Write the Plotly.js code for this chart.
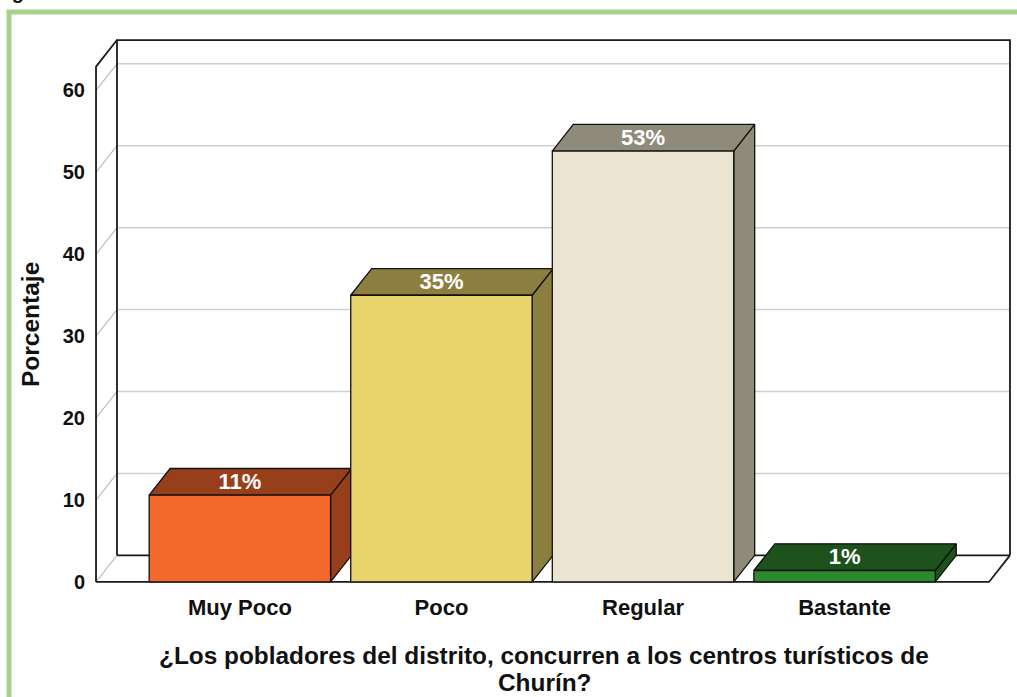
<!DOCTYPE html>
<html>
<head>
<meta charset="utf-8">
<script src="https://cdn.plot.ly/plotly-3.0.1.min.js"></script>
<style>html,body{margin:0;padding:0;background:#fff;}#chart{width:1017px;height:697px;}</style>
</head>
<body>
<div id="chart"></div>
<script>
// ---- data ----
var categories = ["Muy Poco", "Poco", "Regular", "Bastante"];
var percentages = [10.6, 35.0, 52.6, 1.4];
var yTickValues = [0, 10, 20, 30, 40, 50, 60];
var frontColors = ["#f2692b", "#e9d36b", "#ebe4d0", "#2b8a2b"];
var sideColors = ["#973f1a", "#8c7e3f", "#8f8b7b", "#1d521d"];
var xTitleLines = ["¿Los pobladores del distrito, concurren a los centros turísticos de", "Churín?"];
var yTitle = "Porcentaje";
var figLabel = "Figura 6";

// ---- geometry of pseudo 3D box (axis units) ----
var X0 = -0.7136, X1 = 3.7165, DX = 0.104;
var YT = 62.9, DY = 3.25;
var BW = 0.45;
var FONT = "Liberation Sans, Arial, sans-serif";

var traces = [];
function poly(xs, ys, fill, lineColor, lw) {
  traces.push({
    type: "scatter", mode: "lines", x: xs.concat([xs[0]]), y: ys.concat([ys[0]]),
    fill: fill ? "toself" : "none", fillcolor: fill || "rgba(0,0,0,0)",
    line: {color: lineColor, width: lw}, hoverinfo: "skip", showlegend: false
  });
}
function seg(xs, ys, color, lw) {
  traces.push({
    type: "scatter", mode: "lines", x: xs, y: ys,
    line: {color: color, width: lw}, hoverinfo: "skip", showlegend: false
  });
}

// back wall
poly([X0 + DX, X1 + DX, X1 + DX, X0 + DX], [DY, DY, YT + DY, YT + DY], "#ffffff", "rgba(0,0,0,0)", 0);
// left wall fill
poly([X0, X0, X0 + DX, X0 + DX], [0, YT, YT + DY, DY], "#ffffff", "rgba(0,0,0,0)", 0);
// gridlines
yTickValues.forEach(function (v) {
  if (v > 0) {
    seg([X0 + DX, X1 + DX], [v + DY, v + DY], "#cfcfcf", 1.5);
  }
  seg([X0, X0 + DX], [v, v + DY], "#bdbdbd", 1.2);
});
// back wall edges
seg([X0 + DX, X0 + DX, X1 + DX, X1 + DX], [DY, YT + DY, YT + DY, DY], "#1a1a1a", 1.8);
// left wall edges
seg([X0, X0, X0 + DX], [0, YT, YT + DY], "#1a1a1a", 1.8);
// floor
seg([X0 + DX, X1 + DX], [DY, DY], "#1a1a1a", 1.6);
seg([X0, X1, X1 + DX], [0, 0, DY], "#1a1a1a", 1.8);

// bars
percentages.forEach(function (v, i) {
  var xl = i - BW, xr = i + BW;
  poly([xr, xr + DX, xr + DX, xr], [0, DY, v + DY, v], sideColors[i], "#111111", 1.3);
  poly([xl, xr, xr + DX, xl + DX], [v, v, v + DY, v + DY], sideColors[i], "#111111", 1.3);
  poly([xl, xr, xr, xl], [0, 0, v, v], frontColors[i], "#111111", 1.3);
});

// value labels
traces.push({
  type: "scatter", mode: "text",
  x: categories.map(function (c, i) { return i; }),
  y: percentages.map(function (v) { return v + DY * 0.45; }),
  text: percentages.map(function (v) { return Math.round(v) + "%"; }),
  textposition: "middle center",
  textfont: {family: FONT, size: 22, color: "#ffffff", weight: "bold"},
  hoverinfo: "skip", showlegend: false, cliponaxis: false
});

var layout = {
  width: 1017, height: 697,
  margin: {l: 93, r: 4, t: 37, b: 112},
  paper_bgcolor: "#ffffff", plot_bgcolor: "#ffffff",
  showlegend: false,
  font: {family: FONT, color: "#111111"},
  xaxis: {
    range: [X0 - 0.015, X1 + DX + 0.015],
    tickvals: categories.map(function (c, i) { return i; }),
    ticktext: categories,
    showgrid: false, zeroline: false, showline: false, ticks: "",
    ticklabelstandoff: 7,
    tickfont: {family: FONT, size: 22, color: "#111111", weight: "bold"},
    fixedrange: true
  },
  yaxis: {
    range: [-0.37, YT + DY + 0.37],
    tickvals: yTickValues,
    showgrid: false, zeroline: false, showline: false, ticks: "",
    ticklabelstandoff: 7,
    tickfont: {family: FONT, size: 20, color: "#111111", weight: "bold"},
    fixedrange: true
  },
  annotations: [
    {text: xTitleLines[0], xref: "paper", yref: "paper", x: (544 - 93) / 920, y: (585 - 655) / 548,
     xanchor: "center", yanchor: "middle", showarrow: false,
     font: {family: FONT, size: 24.4, color: "#111111", weight: "bold"}},
    {text: xTitleLines[1], xref: "paper", yref: "paper", x: (544 - 93) / 920, y: (585 - 682) / 548,
     xanchor: "center", yanchor: "middle", showarrow: false,
     font: {family: FONT, size: 24.4, color: "#111111", weight: "bold"}},
    {text: yTitle, xref: "paper", yref: "paper", x: (30 - 93) / 920, y: (585 - 325) / 548,
     xanchor: "center", yanchor: "middle", showarrow: false, textangle: -90,
     font: {family: FONT, size: 24.5, color: "#111111", weight: "bold"}},
    {text: figLabel, xref: "paper", yref: "paper", x: (-8 - 93) / 920, y: (585 - 5.5) / 548,
     xanchor: "left", yanchor: "bottom", showarrow: false,
     font: {family: FONT, size: 20, color: "#111111", weight: "bold"}}
  ],
  shapes: [
    {type: "path", xref: "paper", yref: "paper", layer: "below",
     path: "M " + ((9 - 93) / 920) + "," + ((585 - 720) / 548) + " L " + ((9 - 93) / 920) + "," + ((585 - 12) / 548) +
           " L " + ((1040 - 93) / 920) + "," + ((585 - 12) / 548),
     line: {color: "#a9d18e", width: 5}}
  ]
};

Plotly.newPlot("chart", traces, layout, {staticPlot: true, displayModeBar: false});
</script>
</body>
</html>
